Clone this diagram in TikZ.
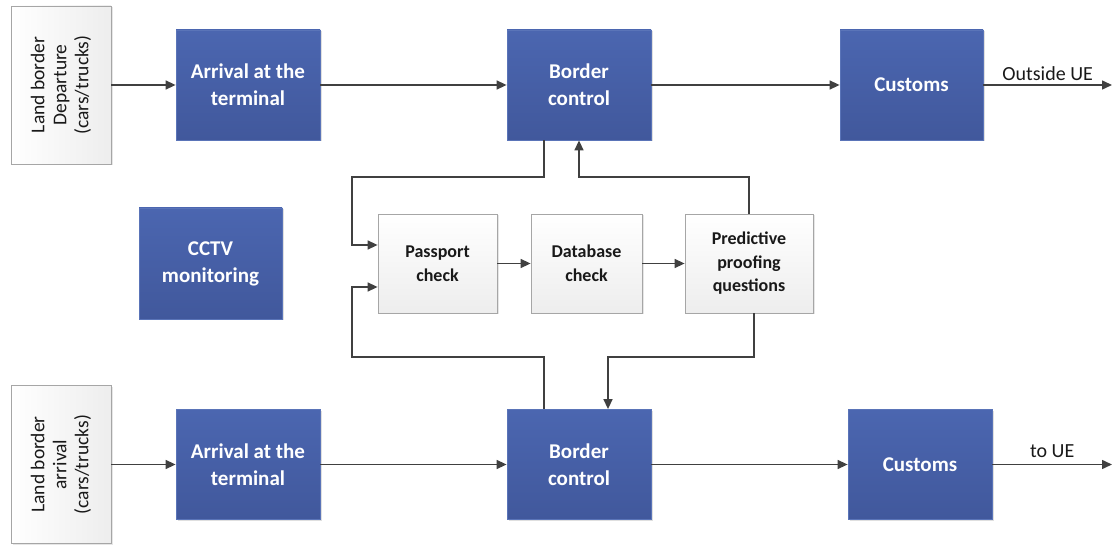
\documentclass[tikz,border=0pt]{standalone}
\usepackage{fontspec}
\setmainfont{Carlito}
\usetikzlibrary{arrows.meta,shadows}
\definecolor{boxtop}{HTML}{4B66B0}
\definecolor{boxbot}{HTML}{41589C}
\definecolor{boxline}{HTML}{5A74B8}
\definecolor{greyline}{HTML}{A6A6A6}
\definecolor{flowgrey}{HTML}{404040}
\tikzset{
  bluebox/.style={draw=boxline, line width=0.8pt, top color=boxtop, bottom color=boxbot,
    text=white, font=\fontsize{21}{27}\selectfont\bfseries, align=center,
    minimum width=144pt, minimum height=110pt, inner sep=0pt,
    drop shadow={shadow xshift=1.5pt, shadow yshift=-1.5pt, opacity=0.25}},
  greybox/.style={draw=greyline, line width=0.8pt, top color=white, bottom color=black!7,
    text=black!90, font=\fontsize{18}{23.5}\selectfont\bfseries, align=center,
    minimum height=99pt, inner sep=0pt,
    drop shadow={shadow xshift=1.5pt, shadow yshift=-1.5pt, opacity=0.2}},
  sidebox/.style={draw=greyline, line width=0.8pt, left color=white, right color=black!7,
    text=black!90, font=\fontsize{19.5}{22}\selectfont, align=center, rotate=90,
    minimum width=158pt, minimum height=100pt, inner sep=0pt,
    drop shadow={shadow xshift=1.5pt, shadow yshift=-1.5pt, opacity=0.2}},
  flow/.style={draw=flowgrey, line width=1.5pt, ->},
  outlabel/.style={font=\fontsize{20}{24}\selectfont, text=black!90}
}
\begin{document}
\begin{tikzpicture}[x=1pt, y=-1pt, >={Triangle[length=10pt,width=9pt]}]
\useasboundingbox (0,0) rectangle (1112,545);
\node[sidebox] (dep) at (61,85) {Land border\\Departure\\(cars/trucks)};
\node[bluebox] (arr1) at (248,85) {Arrival at the\\terminal};
\node[bluebox] (bc1) at (579,85) {Border\\control};
\node[bluebox, minimum width=143pt] (cus1) at (911.5,85) {Customs};
\node[bluebox, minimum width=143pt, minimum height=111pt] (cctv) at (210.5,263.5) {CCTV\\monitoring};
\node[greybox, minimum width=119pt] (pass) at (437.5,263.5) {Passport\\check};
\node[greybox, minimum width=111pt] (db) at (586.5,263.5) {Database\\check};
\node[greybox, minimum width=128pt] (pred) at (749,263.5) {Predictive\\proofing\\questions};
\node[sidebox] (inb) at (61,464.5) {Land border\\arrival\\(cars/trucks)};
\node[bluebox] (arr2) at (248,464.5) {Arrival at the\\terminal};
\node[bluebox] (bc2) at (579,464.5) {Border\\control};
\node[bluebox] (cus2) at (920,464.5) {Customs};
\coordinate (out1) at (1112,85);
\coordinate (out2) at (1112,464.5);
\coordinate (top) at (352,177);
\coordinate (bot) at (352,357);
\coordinate (bc1out) at ([xshift=-35pt]bc1.south);
\coordinate (bc2out) at ([xshift=-35pt]bc2.north);
\coordinate (bc2in) at ([xshift=29pt]bc2.north);
\coordinate (predout) at ([xshift=5pt]pred.south);
\draw[flow] (dep) -- (arr1);
\draw[flow] (arr1) -- (bc1);
\draw[flow] (bc1) -- (cus1);
\draw[flow] (cus1) -- (out1) node[midway, above, outlabel] {Outside UE};
\draw[flow] (inb) -- (arr2);
\draw[flow] (arr2) -- (bc2);
\draw[flow] (bc2) -- (cus2);
\draw[flow] (cus2) -- (out2) node[midway, above=3pt, outlabel] {to UE};
\draw[flow] (pass) -- (db);
\draw[flow] (db) -- (pred);
\draw[flow] (bc1out) |- (top) |- ([yshift=18.5pt]pass.west);
\draw[flow] (pred.north) |- (top -| bc1.south) -- (bc1.south);
\draw[flow] (bc2out) |- (bot) |- ([yshift=-23.5pt]pass.west);
\draw[flow] (predout) |- (bot -| bc2in) -- (bc2in);
\end{tikzpicture}
\end{document}
